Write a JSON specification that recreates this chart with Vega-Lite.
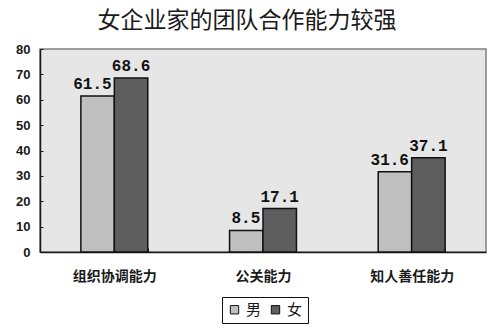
{
  "$schema": "https://vega.github.io/schema/vega-lite/v6.json",
  "width": 446,
  "height": 203,
  "autosize": {"type": "none"},
  "padding": {"left": 40, "top": 49, "right": 14, "bottom": 82},
  "background": "white",
  "title": {
    "text": "女企业家的团队合作能力较强",
    "font": "Noto Sans CJK SC",
    "fontSize": 23,
    "fontWeight": "normal",
    "color": "#1a1a1a",
    "anchor": "middle",
    "dx": -16,
    "offset": 10
  },
  "config": {
    "view": {"fill": "#e6e6e6", "stroke": "#808080", "strokeWidth": 1.5}
  },
  "data": {
    "values": [
      {"category": "组织协调能力", "gender": "男", "value": 61.5},
      {"category": "组织协调能力", "gender": "女", "value": 68.6},
      {"category": "公关能力", "gender": "男", "value": 8.5},
      {"category": "公关能力", "gender": "女", "value": 17.1},
      {"category": "知人善任能力", "gender": "男", "value": 31.6},
      {"category": "知人善任能力", "gender": "女", "value": 37.1}
    ]
  },
  "encoding": {
    "x": {
      "field": "category",
      "type": "nominal",
      "sort": ["组织协调能力", "公关能力", "知人善任能力"],
      "scale": {"paddingInner": 0.55, "paddingOuter": 0.275},
      "axis": {
        "title": null,
        "labelAngle": 0,
        "labelFont": "Noto Sans CJK SC",
        "labelFontSize": 14,
        "labelFontWeight": "bold",
        "labelColor": "#1a1a1a",
        "domainColor": "#1a1a1a",
        "domainWidth": 1.5,
        "tickColor": "#1a1a1a",
        "tickBand": "extent",
        "tickSize": -4,
        "labelPadding": 21
      }
    },
    "xOffset": {"field": "gender", "type": "nominal", "sort": ["男", "女"]},
    "y": {
      "field": "value",
      "type": "quantitative",
      "scale": {"domain": [0, 80]},
      "axis": {
        "title": null,
        "values": [0, 10, 20, 30, 40, 50, 60, 70, 80],
        "grid": false,
        "labelFont": "Liberation Sans",
        "labelFontSize": 13,
        "labelFontWeight": "bold",
        "labelColor": "#1a1a1a",
        "domainColor": "#1a1a1a",
        "domainWidth": 1.5,
        "tickColor": "#1a1a1a",
        "tickSize": -3,
        "labelPadding": 13
      }
    }
  },
  "layer": [
    {
      "mark": {"type": "bar", "stroke": "#111111", "strokeWidth": 1.5},
      "encoding": {
        "color": {
          "field": "gender",
          "type": "nominal",
          "sort": ["男", "女"],
          "scale": {"domain": ["男", "女"], "range": ["#c0c0c0", "#5e5e5e"]},
          "legend": {
            "title": null,
            "orient": "none",
            "direction": "horizontal",
            "legendX": 182,
            "legendY": 248,
            "symbolType": "square",
            "symbolSize": 70,
            "symbolStrokeColor": "#111111",
            "symbolStrokeWidth": 1,
            "labelFont": "Noto Sans CJK SC",
            "labelFontSize": 15,
            "labelColor": "#1a1a1a",
            "strokeColor": "#111111",
            "fillColor": "white",
            "padding": 5,
            "columnPadding": 6,
            "labelOffset": 4
          }
        }
      }
    },
    {
      "transform": [{"filter": "datum.gender === '男'"}],
      "mark": {
        "type": "text",
        "align": "right",
        "dx": 14,
        "baseline": "alphabetic",
        "dy": -7,
        "font": "Liberation Mono",
        "fontSize": 16,
        "fontWeight": "bold",
        "color": "#111111"
      },
      "encoding": {
        "text": {"field": "value", "type": "quantitative", "format": ".1f"}
      }
    },
    {
      "transform": [{"filter": "datum.gender === '女'"}],
      "mark": {
        "type": "text",
        "align": "center",
        "baseline": "alphabetic",
        "dy": -7,
        "font": "Liberation Mono",
        "fontSize": 16,
        "fontWeight": "bold",
        "color": "#111111"
      },
      "encoding": {
        "text": {"field": "value", "type": "quantitative", "format": ".1f"}
      }
    }
  ]
}
